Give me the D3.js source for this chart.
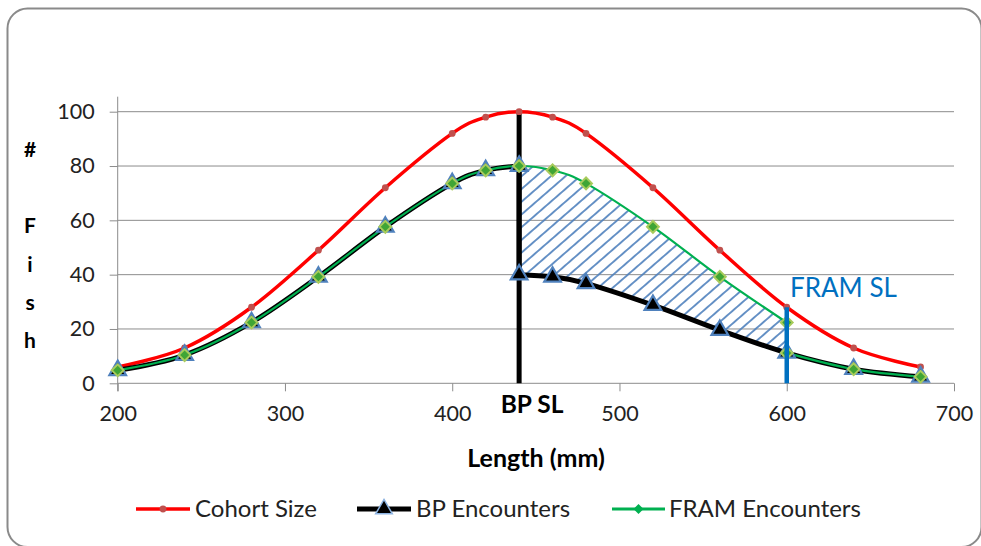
<!DOCTYPE html>
<html><head><meta charset="utf-8">
<script src="https://cdn.jsdelivr.net/npm/d3@7"></script>
<style>
body{margin:0;background:#fff}
svg{display:block}
text{font-family:Lato,"Open Sans",sans-serif}
</style>
</head><body>
<svg id="c" width="981" height="546"></svg>
<script>
// ---- data ----
const cohortLengths = [200,240,280,320,360,400,420,440,460,480,520,560,600,640,680];
const cohortSize    = [6,13,28,49,72,92,98,100,98,92,72,49,28,13,6];
const bpLengths     = [200,240,280,320,360,400,420,440,440,460,480,520,560,600,640,680];
const bpEncounters  = [4.8,10.4,22.4,39.2,57.6,73.6,78.4,80,40,39.2,36.8,28.8,19.6,11.2,5.2,2.4];
const framLengths   = [200,240,280,320,360,400,420,440,460,480,520,560,600,600,640,680];
const framEncounters= [4.8,10.4,22.4,39.2,57.6,73.6,78.4,80,78.4,73.6,57.6,39.2,22.4,11.2,5.2,2.4];
const xTicks = [200,300,400,500,600,700];
const yTicks = [0,20,40,60,80,100];
const bpSL = 440, framSL = 600;
const seriesNames = ["Cohort Size","BP Encounters","FRAM Encounters"];

// ---- setup ----
const svg = d3.select("#c");
const x = d3.scaleLinear().domain([200,700]).range([117.7,954]);
const y = d3.scaleLinear().domain([0,100]).range([383.3,111.7]);
const curve = d3.curveCardinal.tension(0);

// frame
svg.append("rect").attr("x",7.5).attr("y",8.5).attr("width",974).attr("height",538.5)
  .attr("rx",20).attr("fill","#fff").attr("stroke","#8a8a8a").attr("stroke-width",2);

// defs: hatch pattern
const defs = svg.append("defs");
const pat = defs.append("pattern").attr("id","hatch").attr("patternUnits","userSpaceOnUse")
  .attr("width",9.6).attr("height",9.6).attr("patternTransform","rotate(49)");
pat.append("line").attr("x1",4.8).attr("y1",-1).attr("x2",4.8).attr("y2",11)
  .attr("stroke","#4F81BD").attr("stroke-width",1.7);

// gridlines
svg.append("g").selectAll("line").data(yTicks).join("line")
  .attr("x1",x(200)).attr("x2",x(700)).attr("y1",d=>y(d)).attr("y2",d=>y(d))
  .attr("stroke","#8c8c8c").attr("stroke-width",1);

// y axis
const gy = svg.append("g").attr("transform",`translate(${x(200)},0)`)
  .call(d3.axisLeft(y).tickValues(yTicks).tickSize(8).tickPadding(15));
gy.select(".domain").remove();
gy.append("line").attr("x1",0).attr("x2",0).attr("y1",96.7).attr("y2",y(0)+8).attr("stroke","#8c8c8c");
gy.selectAll(".tick line").attr("stroke","#8c8c8c");
gy.selectAll(".tick text").attr("font-size",21.5).attr("fill","#222").attr("font-family","Lato");

// x axis
const gx = svg.append("g").attr("transform",`translate(0,${y(0)})`)
  .call(d3.axisBottom(x).tickValues(xTicks).tickSize(8).tickPadding(14));
gx.select(".domain").remove();
gx.selectAll(".tick line").attr("stroke","#8c8c8c");
gx.selectAll(".tick text").attr("font-size",21.5).attr("fill","#222").attr("font-family","Lato");

// hatch area between BP (lower) and FRAM (upper) from BP SL to FRAM SL
const hatchLengths = cohortLengths.filter(L => L >= bpSL && L <= framSL);
const lowerAt = L => d3.min(bpLengths.map((l,i)=>l===L?bpEncounters[i]:null).filter(v=>v!==null));
const upperAt = L => d3.max(framLengths.map((l,i)=>l===L?framEncounters[i]:null).filter(v=>v!==null));
const hatchData = hatchLengths.map(L => ({L, lo: lowerAt(L), hi: upperAt(L)}));
svg.append("path").datum(hatchData)
  .attr("d", d3.area().curve(curve).x(d=>x(d.L)).y0(d=>y(d.lo)).y1(d=>y(d.hi)))
  .attr("fill","url(#hatch)");

// lines
const cohortPts = cohortLengths.map((L,i)=>[L,cohortSize[i]]);
const bpPts = bpLengths.map((L,i)=>[L,bpEncounters[i]]);
const framPts = framLengths.map((L,i)=>[L,framEncounters[i]]);
const line = d3.line().curve(curve).x(d=>x(d[0])).y(d=>y(d[1]));
// smooth pieces joined by straight vertical drops where a length repeats
function smoothPath(pts){
  const segs=[[pts[0]]];
  for(let i=1;i<pts.length;i++){
    if(pts[i][0]===pts[i-1][0]) segs.push([pts[i]]); else segs[segs.length-1].push(pts[i]);
  }
  return segs.map((s,i)=>{const d=line(s); return i? d.replace(/^M/,"L"): d;}).join("");
}

svg.append("path").attr("d",smoothPath(cohortPts)).attr("fill","none")
  .attr("stroke","#FF0000").attr("stroke-width",3.5).attr("stroke-linejoin","round");
svg.append("path").attr("d",smoothPath(bpPts)).attr("fill","none")
  .attr("stroke","#000").attr("stroke-width",5).attr("stroke-linejoin","round");
svg.append("path").attr("d",smoothPath(framPts)).attr("fill","none")
  .attr("stroke","#00B050").attr("stroke-width",2.2).attr("stroke-linejoin","round");

// BP SL vertical line
svg.append("line").attr("x1",x(bpSL)).attr("x2",x(bpSL)).attr("y1",y(0)).attr("y2",y(100))
  .attr("stroke","#000").attr("stroke-width",5);

// markers
const tri = d3.symbol(d3.symbolTriangle, 120);
const dia = d3.symbol(d3.symbolSquare, 70);
svg.append("g").selectAll("circle").data(cohortPts).join("circle")
  .attr("cx",d=>x(d[0])).attr("cy",d=>y(d[1])).attr("r",3.4).attr("fill","#C0504D");
svg.append("g").selectAll("path").data(bpPts).join("path")
  .attr("d",tri).attr("transform",d=>`translate(${x(d[0])},${y(d[1])})`)
  .attr("fill","#000").attr("stroke","#4F81BD").attr("stroke-width",2.2);
svg.append("g").selectAll("path").data(framPts).join("path")
  .attr("d",dia).attr("transform",d=>`translate(${x(d[0])},${y(d[1])}) rotate(45)`)
  .attr("fill","#3FA535").attr("stroke","#A8CB5C").attr("stroke-width",2);

// FRAM SL vertical line
svg.append("line").attr("x1",x(framSL)).attr("x2",x(framSL)).attr("y1",y(0)).attr("y2",y(d3.max(cohortSize.filter((v,i)=>cohortLengths[i]===framSL))))
  .attr("stroke","#0070C0").attr("stroke-width",4.5);

// labels
svg.append("text").attr("x",532).attr("y",413).attr("text-anchor","middle")
  .attr("font-size",24.5).attr("font-weight","bold").attr("fill","#000").text("BP SL");
svg.append("text").attr("x",790).attr("y",297)
  .attr("font-size",26).attr("fill","#0070C0").text("FRAM SL");
svg.append("text").attr("x",536).attr("y",467).attr("text-anchor","middle")
  .attr("font-size",25).attr("font-weight","bold").attr("fill","#000").text("Length (mm)");

// vertical y label
const yLabel = ["#","F","i","s","h"];
const yLabelBase = [157,233,272,310,348];
svg.append("g").selectAll("text").data(yLabel).join("text")
  .attr("x",30).attr("y",(d,i)=>yLabelBase[i]).attr("text-anchor","middle")
  .attr("font-size",21).attr("font-weight","bold").attr("fill","#000").text(d=>d);

// legend
const legY = 509;
const leg = [
  {x0:136,x1:190,tx:195,color:"#FF0000",w:3.5,mark:"dot"},
  {x0:357,x1:411,tx:416,color:"#000",w:5,mark:"tri"},
  {x0:612,x1:665,tx:669,color:"#00B050",w:3,mark:"dia"}
];
leg.forEach((l,i)=>{
  svg.append("line").attr("x1",l.x0).attr("x2",l.x1).attr("y1",legY).attr("y2",legY)
    .attr("stroke",l.color).attr("stroke-width",l.w);
  const cx=(l.x0+l.x1)/2;
  if(l.mark==="dot") svg.append("circle").attr("cx",cx).attr("cy",legY).attr("r",3.4).attr("fill","#C0504D");
  if(l.mark==="tri") svg.append("path").attr("d",tri).attr("transform",`translate(${cx},${legY})`)
    .attr("fill","#000").attr("stroke","#8DB4E2").attr("stroke-width",1.5);
  if(l.mark==="dia") svg.append("path").attr("d",d3.symbol(d3.symbolSquare,50)).attr("transform",`translate(${cx},${legY}) rotate(45)`)
    .attr("fill","#00B050");
  svg.append("text").attr("x",l.tx).attr("y",legY).attr("dy","0.35em")
    .attr("font-size",24).attr("fill","#222").text(seriesNames[i]);
});
</script>
</body></html>
